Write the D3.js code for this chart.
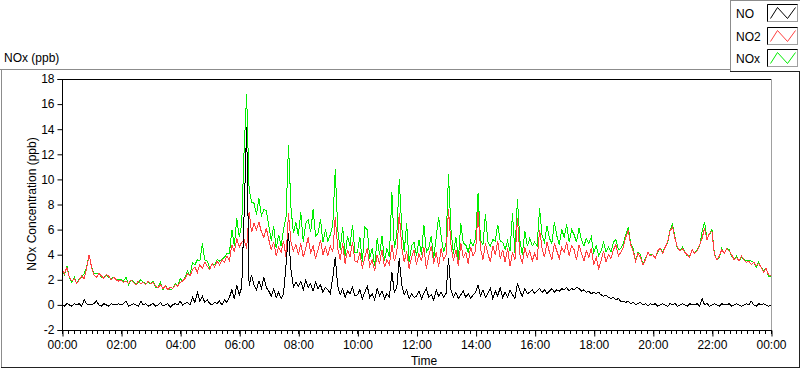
<!DOCTYPE html>
<html>
<head>
<meta charset="utf-8">
<script src="https://cdn.jsdelivr.net/npm/d3@7"></script>
<style>
  html, body { margin: 0; padding: 0; background: #fff; }
  svg { display: block; }
  text { font-family: "Liberation Sans", Arial, sans-serif; font-size: 12px; fill: #000; }
</style>
</head>
<body>
<svg id="chart" width="800" height="369"></svg>
<script>
// ---- data (5-minute samples, 00:00 .. 24:00) ----
const sampleStepMinutes = 5;
const seriesNames = ["NO", "NO2", "NOx"];
const seriesColors = ["#000000", "#ff4040", "#00ee00"];
const xTickLabels = ["00:00","02:00","04:00","06:00","08:00","10:00","12:00","14:00","16:00","18:00","20:00","22:00","00:00"];
const yTickValues = [-2, 0, 2, 4, 6, 8, 10, 12, 14, 16, 18];

const NO = [
  0.0,-0.1,0.1,0.0,-0.1,0.1,0.0,0.1,-0.1,0.4,0.1,0.0,
  0.0,0.1,0.3,0.0,-0.1,0.1,0.0,-0.1,0.1,0.0,0.0,0.1,
  0.0,0.1,0.3,-0.1,0.0,0.1,0.0,-0.1,0.3,0.0,0.1,-0.1,
  0.0,0.1,-0.1,0.0,0.2,-0.1,0.0,0.1,-0.2,0.0,0.1,0.0,
  0.3,0.0,0.1,0.2,0.0,0.6,0.2,1.0,0.3,0.7,0.2,0.4,
  0.1,0.0,0.2,0.1,0.3,0.0,0.4,0.2,0.6,1.2,0.5,1.6,
  0.8,1.4,7.4,14.2,1.5,2.4,1.6,1.2,1.9,1.3,2.2,1.4,
  1.1,0.7,1.3,0.6,1.0,0.5,0.9,3.2,5.7,2.8,1.4,1.8,
  1.5,1.9,1.2,2.0,1.4,1.7,1.1,1.8,1.3,1.6,1.0,1.4,
  1.2,0.9,2.2,3.8,1.5,0.8,1.3,0.6,1.1,0.9,1.4,0.7,
  0.8,1.2,0.5,1.0,1.5,0.6,0.9,0.4,1.3,0.7,1.1,0.5,
  0.9,0.6,2.6,1.0,1.4,3.7,1.6,0.8,1.2,0.5,0.9,0.6,
  0.7,1.1,0.5,0.9,1.3,0.6,0.8,0.4,1.2,0.7,1.0,0.6,
  0.9,3.7,1.2,0.6,1.0,0.5,0.8,1.1,0.6,0.9,0.5,0.8,
  1.0,1.6,0.7,1.2,0.6,0.9,1.3,0.5,1.1,0.7,1.4,0.6,
  1.0,0.6,1.2,0.8,0.5,1.7,1.1,0.7,1.3,0.9,1.0,1.2,
  0.9,1.1,1.3,1.0,1.2,0.9,1.1,1.3,1.0,1.2,1.1,1.3,
  1.2,1.4,1.1,1.3,1.2,1.4,1.3,1.1,1.2,1.0,1.1,0.9,
  1.0,0.9,1.0,0.8,0.7,0.8,0.6,0.5,0.6,0.4,0.5,0.3,
  0.3,0.2,0.3,0.1,0.2,0.0,0.1,0.2,0.0,0.1,-0.1,0.1,
  0.0,0.1,-0.1,0.0,0.1,0.0,-0.1,0.1,0.0,0.1,-0.1,0.0,
  0.1,0.0,-0.1,0.1,0.0,0.0,0.1,-0.1,0.5,0.0,0.1,-0.1,
  0.0,0.1,0.0,-0.1,0.1,0.0,0.0,0.1,-0.1,0.0,0.1,0.0,
  -0.1,0.0,0.1,0.0,0.3,0.0,-0.1,0.1,0.0,0.1,0.0,-0.1,
  0.0
];
const NO2 = [
  2.8,2.5,3.0,2.2,1.9,2.1,1.7,2.0,2.3,2.1,2.9,4.0,
  3.0,2.4,2.2,2.5,2.3,2.1,2.4,2.3,2.0,2.2,2.0,1.9,
  2.0,1.8,1.9,1.7,2.0,1.8,1.6,1.9,1.7,1.8,1.6,1.9,
  1.7,1.8,1.5,1.4,1.6,1.3,1.5,1.2,1.4,1.3,1.6,1.5,
  1.8,1.9,2.1,2.5,2.3,2.8,3.0,2.6,3.2,2.9,3.4,3.1,
  2.8,3.3,3.0,3.5,3.2,3.6,3.4,3.9,3.5,4.8,4.2,5.3,
  4.6,5.0,5.2,4.5,7.4,5.8,6.5,6.0,6.6,5.8,5.4,6.1,
  5.2,4.4,5.0,3.9,4.6,4.2,5.1,3.8,7.3,5.0,4.3,4.8,
  4.0,4.9,3.8,4.5,5.4,4.1,4.7,3.7,4.4,5.2,4.0,4.6,
  3.9,4.7,4.2,7.0,4.5,3.6,4.9,3.3,4.4,3.8,5.0,3.5,
  3.4,4.2,2.9,3.8,4.5,3.1,3.6,2.7,4.0,3.3,4.4,3.0,
  3.6,3.2,4.8,3.5,4.2,7.3,4.6,3.4,4.3,2.9,3.8,4.4,
  3.2,4.1,3.5,4.6,2.9,3.9,4.7,3.3,4.2,3.0,4.5,3.6,
  4.0,7.6,4.8,3.5,4.4,3.1,4.9,3.8,4.2,3.3,4.6,3.9,
  4.3,7.4,4.5,3.6,4.9,4.1,3.4,4.7,4.0,5.1,3.7,4.4,
  3.4,4.5,3.1,4.2,3.6,6.9,4.0,3.3,4.6,3.8,4.3,3.5,
  4.1,3.6,6.0,4.5,3.8,5.0,4.2,3.6,4.9,4.3,3.7,4.6,
  4.2,5.0,3.9,4.7,4.4,3.6,4.8,4.1,3.5,4.3,3.8,4.5,
  3.2,3.8,2.9,3.5,4.3,3.4,4.0,3.7,4.4,4.8,3.9,4.2,
  4.6,5.4,5.9,4.8,4.3,3.5,4.1,3.8,3.2,3.6,4.2,3.9,
  4.0,3.7,4.3,4.5,4.1,4.6,5.0,5.9,6.2,5.3,4.6,4.3,
  4.5,4.2,4.0,3.8,4.4,4.1,4.3,4.8,5.3,6.1,5.2,5.7,
  5.9,4.0,3.6,3.9,4.4,4.1,4.5,4.3,4.0,3.6,3.8,3.5,
  3.9,3.6,3.4,3.5,3.2,3.4,3.1,3.3,3.0,2.6,2.9,2.4,
  2.3
];
const NOx = [
  2.8,2.4,3.1,2.2,1.8,2.2,1.7,2.1,2.2,2.5,3.0,4.0,
  3.0,2.5,2.5,2.5,2.2,2.2,2.4,2.2,2.1,2.2,2.0,2.0,
  2.0,1.9,2.2,1.6,2.0,1.9,1.6,1.8,2.0,1.8,1.7,1.8,
  1.7,1.9,1.4,1.4,1.8,1.2,1.5,1.3,1.2,1.3,1.7,1.5,
  2.1,1.9,2.2,2.7,2.3,3.4,3.2,3.6,3.5,4.9,3.6,3.5,
  2.9,3.3,3.2,3.6,3.5,3.6,3.8,4.1,4.1,6.0,4.7,6.9,
  5.4,6.4,12.5,16.8,9.2,8.2,8.1,7.2,8.5,7.1,7.6,7.5,
  6.3,5.1,6.3,4.5,5.6,4.7,6.0,7.0,12.7,7.8,5.7,6.6,
  5.5,7.4,5.0,6.5,6.8,5.8,7.6,5.5,5.7,6.8,5.0,6.0,
  5.1,5.6,6.4,10.8,6.0,4.4,6.2,3.9,5.5,4.7,6.4,4.2,
  4.2,5.4,3.4,6.2,6.0,3.7,4.5,3.1,5.3,4.0,5.5,3.5,
  4.5,3.8,9.0,4.5,5.6,10.0,6.2,4.2,6.5,3.4,4.7,5.0,
  3.9,5.2,4.0,6.4,4.2,4.5,5.5,3.7,5.4,7.0,5.5,4.2,
  4.9,10.4,6.0,4.1,5.4,3.6,6.5,4.9,4.8,4.2,5.1,4.7,
  5.3,8.9,5.2,4.8,7.2,5.0,4.7,5.2,5.1,6.4,5.1,5.0,
  4.4,5.1,4.3,7.3,4.1,8.4,5.1,4.0,5.9,4.7,5.3,4.7,
  5.0,4.7,7.7,5.5,5.0,6.3,5.3,4.9,6.6,5.5,4.8,6.0,
  5.4,6.4,5.0,6.0,5.6,5.0,6.1,5.2,4.7,5.3,4.9,5.4,
  4.2,4.7,3.9,4.3,5.0,4.2,4.6,4.2,5.0,5.2,4.4,4.5,
  4.9,5.6,6.2,4.9,4.5,3.5,4.2,4.0,3.2,3.7,4.1,4.0,
  4.0,3.8,4.2,4.5,4.2,4.6,4.9,6.0,6.4,5.4,4.5,4.3,
  4.6,4.2,3.9,3.9,4.4,4.1,4.4,4.7,5.8,6.6,5.3,5.6,
  6.0,4.1,3.6,3.8,4.5,4.1,4.5,4.4,3.9,3.6,3.9,3.5,
  3.8,3.6,3.5,3.5,3.5,3.4,3.0,3.4,3.0,2.7,2.9,2.3,
  2.3
];

// ---- layout ----
const svg = d3.select("#chart");
const plot = { left: 62, right: 771, top: 79, bottom: 330 };

const x = d3.scaleLinear().domain([0, 1440]).range([plot.left, plot.right]);
const y = d3.scaleLinear().domain([-2, 18]).range([plot.bottom, plot.top]);

// outer panel frame
svg.append("line").attr("x1", 0).attr("x2", 731).attr("y1", 69.5).attr("y2", 69.5).attr("stroke", "#8c8c8c");
svg.append("line").attr("x1", 1.5).attr("x2", 1.5).attr("y1", 69.5).attr("y2", 368).attr("stroke", "#8c8c8c");
svg.append("line").attr("x1", 1).attr("x2", 800).attr("y1", 367.5).attr("y2", 367.5).attr("stroke", "#222");
svg.append("line").attr("x1", 799.5).attr("x2", 799.5).attr("y1", 72).attr("y2", 368).attr("stroke", "#222");

// title
svg.append("text").attr("x", 4).attr("y", 62).text("NOx (ppb)");

// plot frame (top black, right gray)
svg.append("line").attr("x1", plot.left).attr("x2", plot.right).attr("y1", plot.top + 0.5).attr("y2", plot.top + 0.5).attr("stroke", "#000");
svg.append("line").attr("x1", plot.right + 0.5).attr("x2", plot.right + 0.5).attr("y1", plot.top).attr("y2", plot.bottom).attr("stroke", "#a0a0a0");

// clip
svg.append("clipPath").attr("id", "clip").append("rect")
  .attr("x", plot.left + 1).attr("y", plot.top).attr("width", plot.right - plot.left).attr("height", plot.bottom - plot.top);

const line = d3.line()
  .x((d, i) => x(i * sampleStepMinutes))
  .y(d => y(d));

const g = svg.append("g").attr("clip-path", "url(#clip)");
// draw order: NOx under NO2 under NO
[[NOx, 2], [NO2, 1], [NO, 0]].forEach(([arr, k]) => {
  g.append("path").datum(arr)
    .attr("fill", "none")
    .attr("stroke", seriesColors[k])
    .attr("stroke-width", 1)
    .attr("shape-rendering", "crispEdges")
    .attr("d", line);
});

// y axis
const yAxis = d3.axisLeft(y).tickValues(yTickValues).tickSize(5).tickPadding(3).tickFormat(d3.format("d"));
const yG = svg.append("g").attr("transform", `translate(${plot.left + 0.5},0)`).call(yAxis);
yG.select(".domain").attr("stroke", "#000").attr("d", `M-5,${y(18)+0.5}H0V${y(-2)+0.5}H-5`);
yG.selectAll("text").style("font-family", "Liberation Sans, Arial, sans-serif").style("font-size", "12px").attr("fill", "#000");
yG.selectAll("text").text(d => d < 0 ? "-" + Math.abs(d) : d);

// x axis minor ticks (every 12 minutes)
const minorVals = d3.range(0, 1441, 12);
svg.append("g").selectAll("line").data(minorVals).join("line")
  .attr("x1", d => Math.round(x(d)) + 0.5).attr("x2", d => Math.round(x(d)) + 0.5)
  .attr("y1", plot.bottom).attr("y2", plot.bottom + 4)
  .attr("stroke", "#000");

// x axis major
const majorVals = xTickLabels.map((_, i) => i * 120);
const xAxis = d3.axisBottom(x).tickValues(majorVals).tickSize(6).tickPadding(4)
  .tickFormat((d, i) => xTickLabels[i]);
const xG = svg.append("g").attr("transform", `translate(0,${plot.bottom + 0.5})`).call(xAxis);
xG.select(".domain").attr("stroke", "#000").attr("d", `M${plot.left},0H${plot.right + 1}`);
xG.selectAll(".tick line").attr("transform", "translate(0.5,0)");
xG.selectAll("text").style("font-family", "Liberation Sans, Arial, sans-serif").style("font-size", "12px").attr("fill", "#000");

// axis titles
svg.append("text").attr("x", 424).attr("y", 365).attr("text-anchor", "middle").text("Time");
svg.append("text").attr("transform", "translate(36,204) rotate(-90)").attr("text-anchor", "middle")
  .text("NOx Concentration (ppb)");

// legend
const lg = svg.append("g");
lg.append("line").attr("x1", 730.5).attr("x2", 730.5).attr("y1", 0).attr("y2", 72).attr("stroke", "#8c8c8c");
lg.append("line").attr("x1", 730).attr("x2", 800).attr("y1", 0.5).attr("y2", 0.5).attr("stroke", "#8c8c8c");
lg.append("line").attr("x1", 730).attr("x2", 800).attr("y1", 71.5).attr("y2", 71.5).attr("stroke", "#222");
const legendOrder = [0, 1, 2];
legendOrder.forEach((k, i) => {
  const top = 4 + i * 22.5;
  lg.append("text").attr("x", 736).attr("y", top + 14).text(seriesNames[k]);
  const bx = 767.5, by = Math.round(top) + 0.5, bw = 30, bh = 17;
  lg.append("rect").attr("x", bx).attr("y", by).attr("width", bw).attr("height", bh)
    .attr("fill", "#fff").attr("stroke", "#a0a0a0");
  lg.append("path").attr("d", `M${bx},${by + bh}V${by}H${bx + bw}`).attr("fill", "none").attr("stroke", "#000");
  lg.append("path")
    .attr("d", `M${bx + 3},${by + 14} L${bx + 10},${by + 3} L${bx + 20},${by + 14} L${bx + 28},${by + 3}`)
    .attr("fill", "none").attr("stroke", seriesColors[k]).attr("stroke-width", 1);
});
</script>
</body>
</html>
